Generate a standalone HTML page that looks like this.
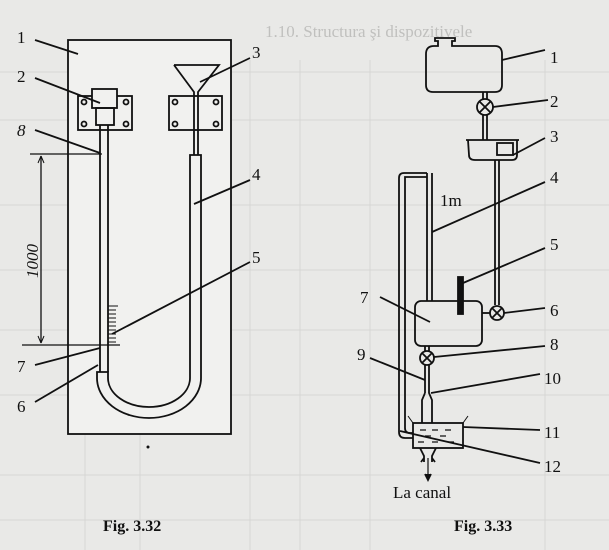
<!DOCTYPE html>
<html><head><meta charset="utf-8"><style>
html,body{margin:0;padding:0;background:#e9e9e7;}
svg{display:block;}
text{font-family:"Liberation Serif",serif;fill:#111;}
</style></head><body>
<svg width="609" height="550" viewBox="0 0 609 550" xmlns="http://www.w3.org/2000/svg">
<rect width="609" height="550" fill="#e9e9e7"/>
<g stroke="#d6d6d4" stroke-width="1">
<line x1="0" y1="72" x2="609" y2="72"/><line x1="0" y1="120" x2="609" y2="120"/>
<line x1="0" y1="205" x2="609" y2="205"/><line x1="0" y1="270" x2="609" y2="270"/>
<line x1="0" y1="330" x2="609" y2="330"/><line x1="0" y1="395" x2="609" y2="395"/>
<line x1="0" y1="475" x2="609" y2="475"/><line x1="0" y1="520" x2="609" y2="520"/>
<line x1="85" y1="60" x2="85" y2="550"/><line x1="140" y1="60" x2="140" y2="550"/>
<line x1="250" y1="60" x2="250" y2="550"/><line x1="300" y1="60" x2="300" y2="550"/>
<line x1="370" y1="60" x2="370" y2="550"/><line x1="545" y1="60" x2="545" y2="550"/>
</g>
<text x="265" y="37" font-size="17" style="fill:#c0c0be">1.10. Structura şi dispozitivele</text>
<g fill="none" stroke="#111" stroke-width="1.8">
<!-- Fig 3.32 -->
<rect x="68" y="40" width="163" height="394" fill="#f1f1ef"/>
<rect x="78" y="96" width="54" height="34"/>
<rect x="169" y="96" width="53" height="34"/>
<rect x="92" y="89" width="25" height="19" fill="#f1f1ef"/>
<rect x="96" y="108" width="18" height="17"/>
<circle cx="84" cy="102" r="2.5"/><circle cx="126" cy="102" r="2.5"/><circle cx="84" cy="124" r="2.5"/><circle cx="126" cy="124" r="2.5"/>
<circle cx="175" cy="102" r="2.5"/><circle cx="216" cy="102" r="2.5"/><circle cx="175" cy="124" r="2.5"/><circle cx="216" cy="124" r="2.5"/>
<path d="M174 65 L219 65 L198 92 L198 155 M174 65 L194 92 L194 155"/>
<path d="M100 125 L100 372 M108 125 L108 372"/>
<path d="M97 372 L97 378 A52 40 0 0 0 201 378 L201 155 L190 155 L190 378 A41 29 0 0 1 108 378 L108 372 Z"/>
<path d="M30 154 L102 154 M22 345 L120 345 M41 156 L41 343" stroke-width="1.3"/>
<path d="M41 156 l-3 7 M41 156 l3 7 M41 343 l-3 -7 M41 343 l3 -7" stroke-width="1"/>
<path d="M108 306 L118 306 M108 310 L116 310 M108 314 L116 314 M108 318 L116 318 M108 322 L116 322 M108 326 L116 326 M108 330 L116 330 M108 334 L116 334 M108 338 L116 338 M108 342 L116 342" stroke-width="1"/>
<path d="M35 40 L78 54 M35 78 L100 103 M250 58 L200 82 M35 130 L100 153 M250 180 L194 204 M250 262 L112 334 M35 365 L100 348 M35 402 L98 365"/>
<!-- Fig 3.33 -->
<path d="M426 54 Q426 46 434 46 L438 46 L438 41 L435 41 L435 38 L455 38 L455 41 L452 41 L452 46 L495 46 Q502 46 502 54 L502 85 Q502 92 495 92 L433 92 Q426 92 426 85 Z"/>
<path d="M483 92 L483 99 M487 92 L487 99"/>
<circle cx="485" cy="107" r="8"/><path d="M479 101 L491 113 M491 101 L479 113"/>
<path d="M483 115 L483 140 M487 115 L487 140"/>
<path d="M466 140 L519 140 M468 140 L469 155 Q469 160 475 160 L512 160 Q517 160 517 155 L517 140"/>
<rect x="497" y="143" width="16" height="12"/>
<path d="M495 160 L495 305 M499 160 L499 305"/>
<circle cx="497" cy="313" r="7"/><path d="M492 308 L502 318 M502 308 L492 318"/>
<path d="M482 313 L490 313"/>
<rect x="415" y="301" width="67" height="45" rx="6"/>
<rect x="458" y="277" width="5" height="37" fill="#111"/>
<path d="M427 301 L427 173 M432 301 L432 173"/>
<path d="M427 177 L405 177 L405 428 Q405 433 410 433 L413 433 M427 173 L404 173 Q399 173 399 178 L399 432 Q399 438 405 438 L413 438"/>
<path d="M425 346 L425 351 M429 346 L429 351"/>
<circle cx="427" cy="358" r="7"/><path d="M422 353 L432 363 M432 353 L422 363"/>
<path d="M425 365 L425 393 M429 365 L429 393 L432 400 L432 423 M425 393 L422 400 L422 423"/>
<rect x="413" y="423" width="50" height="25"/>
<path d="M408 416 L413 423 M468 416 L463 423" stroke-width="1"/>
<path d="M420 430 h6 M432 430 h6 M445 430 h6 M425 436 h6 M440 436 h6 M418 442 h6 M432 442 h6 M448 442 h6" stroke-width="1.2"/>
<path d="M420 448 L424 456 L424 462 M436 448 L432 456 L432 462 M421 462 L424 458 M435 462 L432 458"/>
<path d="M428 458 L428 478" stroke-width="1.2"/><path d="M425 474 L428 480 L431 474" fill="#111"/>
<path d="M502 60 L545 50 M493 107 L548 100 M513 155 L545 138 M432 232 L545 182 M463 283 L545 248 M504 313 L545 308 M380 297 L430 322 M434 357 L545 346 M370 358 L425 380 M431 393 L540 374 M463 427 L540 430 M400 431 L540 463"/>
</g>
<g font-size="17">
<text x="17" y="43">1</text><text x="17" y="82">2</text><text x="252" y="58">3</text>
<text x="17" y="136" font-style="italic">8</text><text x="252" y="180">4</text><text x="252" y="263">5</text>
<text x="17" y="372">7</text><text x="17" y="412">6</text>
<text x="38" y="278" font-style="italic" transform="rotate(-90 38 278)">1000</text>
<text x="550" y="63">1</text><text x="550" y="107">2</text><text x="550" y="142">3</text>
<text x="550" y="183">4</text><text x="550" y="250">5</text><text x="550" y="316">6</text>
<text x="360" y="303">7</text><text x="550" y="350">8</text><text x="357" y="360">9</text>
<text x="544" y="384">10</text><text x="544" y="438">11</text><text x="544" y="472">12</text>
<text x="440" y="206">1m</text>
<text x="393" y="498">La canal</text>
</g>
<text x="103" y="531" font-size="16" font-weight="bold">Fig. 3.32</text>
<text x="454" y="531" font-size="16" font-weight="bold">Fig. 3.33</text>
<circle cx="148" cy="447" r="1.5" fill="#111"/>
</svg>
</body></html>
